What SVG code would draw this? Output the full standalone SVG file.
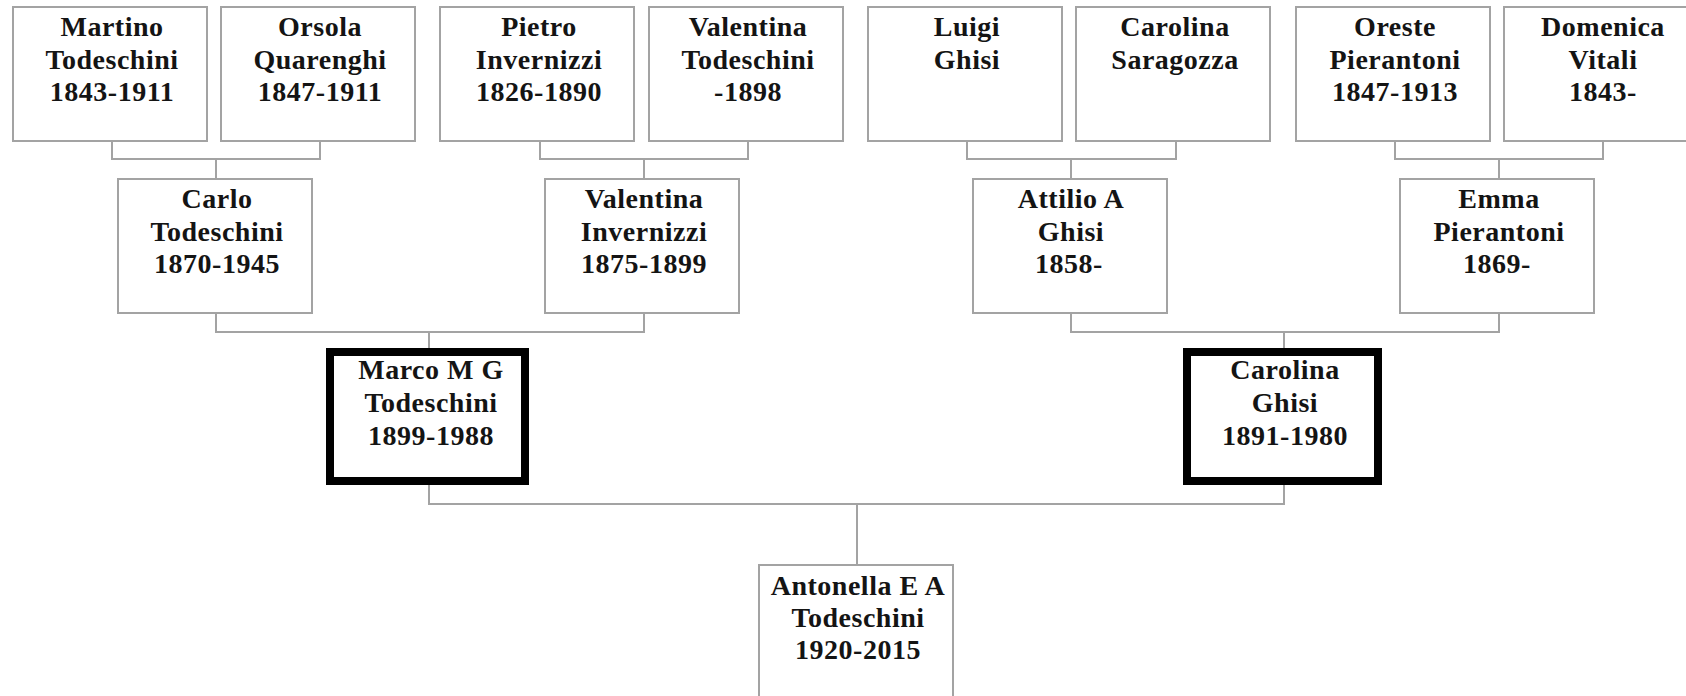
<svg xmlns="http://www.w3.org/2000/svg" width="1686" height="696" viewBox="0 0 1686 696">
<style>
.box{fill:#fff;stroke:#a3a3a3;stroke-width:2}
.focus{fill:#fff;stroke:#000;stroke-width:8}
.lbl{font-family:"Liberation Serif","Times New Roman",serif;font-weight:bold;font-size:28px;fill:#141414;text-anchor:middle;letter-spacing:0.5px}
.conn path{fill:none;stroke:#a3a3a3;stroke-width:2}
</style>
<rect width="1686" height="696" fill="#fff"/>
<g class="conn" id="connectors">
<path d="M112,141 V159 H320 V141 M216,159 V179"/>
<path d="M540,141 V159 H748 V141 M644,159 V179"/>
<path d="M967,141 V159 H1176 V141 M1071,159 V179"/>
<path d="M1395,141 V159 H1603 V141 M1499,159 V179"/>
<path d="M216,313 V332 H644 V313 M429,332 V348"/>
<path d="M1071,313 V332 H1499 V313 M1284,332 V348"/>
<path d="M429,484 V504 H1284 V485 M857,504 V565"/>
</g>
<g id="martino"><rect class="box" x="13" y="7" width="194" height="134"/><text class="lbl" y="36"><tspan x="112">Martino</tspan><tspan x="112" dy="32.5">Todeschini</tspan><tspan x="112" dy="32.5">1843-1911</tspan></text></g>
<g id="orsola"><rect class="box" x="221" y="7" width="194" height="134"/><text class="lbl" y="36"><tspan x="320">Orsola</tspan><tspan x="320" dy="32.5">Quarenghi</tspan><tspan x="320" dy="32.5">1847-1911</tspan></text></g>
<g id="pietro"><rect class="box" x="440" y="7" width="194" height="134"/><text class="lbl" y="36"><tspan x="539">Pietro</tspan><tspan x="539" dy="32.5">Invernizzi</tspan><tspan x="539" dy="32.5">1826-1890</tspan></text></g>
<g id="valentinaT"><rect class="box" x="649" y="7" width="194" height="134"/><text class="lbl" y="36"><tspan x="748">Valentina</tspan><tspan x="748" dy="32.5">Todeschini</tspan><tspan x="748" dy="32.5">-1898</tspan></text></g>
<g id="luigi"><rect class="box" x="868" y="7" width="194" height="134"/><text class="lbl" y="36"><tspan x="967">Luigi</tspan><tspan x="967" dy="32.5">Ghisi</tspan></text></g>
<g id="carolinaS"><rect class="box" x="1076" y="7" width="194" height="134"/><text class="lbl" y="36"><tspan x="1175">Carolina</tspan><tspan x="1175" dy="32.5">Saragozza</tspan></text></g>
<g id="oreste"><rect class="box" x="1296" y="7" width="194" height="134"/><text class="lbl" y="36"><tspan x="1395">Oreste</tspan><tspan x="1395" dy="32.5">Pierantoni</tspan><tspan x="1395" dy="32.5">1847-1913</tspan></text></g>
<g id="domenica"><rect class="box" x="1504" y="7" width="194" height="134"/><text class="lbl" y="36"><tspan x="1603">Domenica</tspan><tspan x="1603" dy="32.5">Vitali</tspan><tspan x="1603" dy="32.5">1843-</tspan></text></g>
<g id="carlo"><rect class="box" x="118" y="179" width="194" height="134"/><text class="lbl" y="208"><tspan x="217">Carlo</tspan><tspan x="217" dy="32.5">Todeschini</tspan><tspan x="217" dy="32.5">1870-1945</tspan></text></g>
<g id="valentinaI"><rect class="box" x="545" y="179" width="194" height="134"/><text class="lbl" y="208"><tspan x="644">Valentina</tspan><tspan x="644" dy="32.5">Invernizzi</tspan><tspan x="644" dy="32.5">1875-1899</tspan></text></g>
<g id="attilio"><rect class="box" x="973" y="179" width="194" height="134"/><text class="lbl" y="208"><tspan x="1071">Attilio A</tspan><tspan x="1071" dy="32.5">Ghisi</tspan><tspan x="1069" dy="32.5">1858-</tspan></text></g>
<g id="emma"><rect class="box" x="1400" y="179" width="194" height="134"/><text class="lbl" y="208"><tspan x="1499">Emma</tspan><tspan x="1499" dy="32.5">Pierantoni</tspan><tspan x="1497" dy="32.5">1869-</tspan></text></g>
<g id="marco"><rect class="focus" x="330" y="352" width="195" height="129"/><text class="lbl" y="379"><tspan x="431">Marco M G</tspan><tspan x="431" dy="33">Todeschini</tspan><tspan x="431" dy="33">1899-1988</tspan></text></g>
<g id="carolinaG"><rect class="focus" x="1187" y="352" width="191" height="129"/><text class="lbl" y="379"><tspan x="1285">Carolina</tspan><tspan x="1285" dy="33">Ghisi</tspan><tspan x="1285" dy="33">1891-1980</tspan></text></g>
<g id="antonella"><rect class="box" x="759" y="565" width="194" height="134"/><text class="lbl" y="595"><tspan x="858">Antonella E A</tspan><tspan x="858" dy="32">Todeschini</tspan><tspan x="858" dy="32">1920-2015</tspan></text></g>
</svg>
